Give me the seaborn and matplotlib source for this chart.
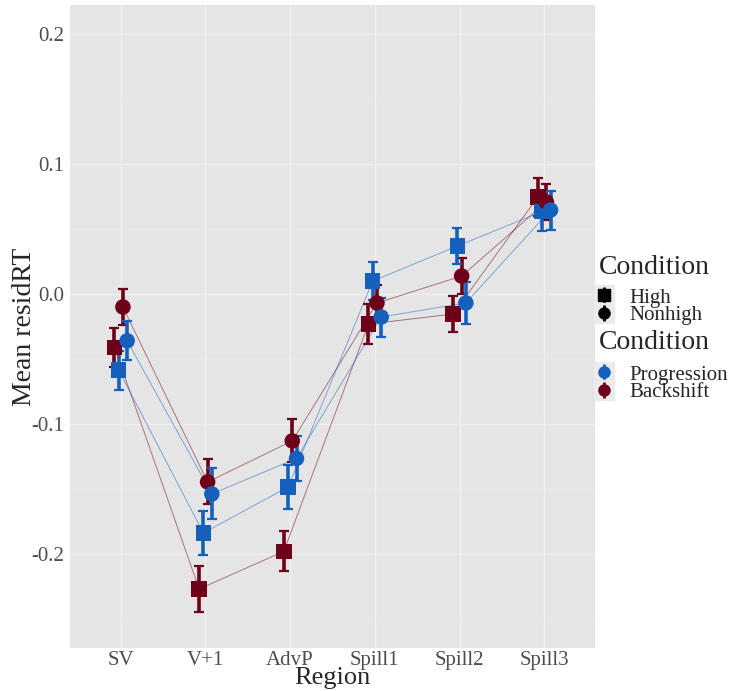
import numpy as np
import pandas as pd
import seaborn as sns
import matplotlib
matplotlib.use("Agg")
import matplotlib.pyplot as plt
from matplotlib.lines import Line2D
from matplotlib.legend_handler import HandlerTuple

regions = ["SV", "V+1", "AdvP", "Spill1", "Spill2", "Spill3"]
groups = ["Progression", "Backshift"]
heights = ["High", "Nonhigh"]

# means
prog_high = [-0.0585, -0.1838, -0.1485, 0.0100, 0.0369, 0.0635]
prog_nonhigh = [-0.0360, -0.1538, -0.1265, -0.0177, -0.0069, 0.0646]
back_high = [-0.0410, -0.2269, -0.1980, -0.0231, -0.0154, 0.0746]
back_nonhigh = [-0.0100, -0.1446, -0.1130, -0.0069, 0.0138, 0.0708]

# standard errors
prog_high_se = [0.0150, 0.0170, 0.0170, 0.0146, 0.0140, 0.0150]
prog_nonhigh_se = [0.0150, 0.0196, 0.0173, 0.0150, 0.0160, 0.0150]
back_high_se = [0.0150, 0.0177, 0.0154, 0.0154, 0.0140, 0.0146]
back_nonhigh_se = [0.0140, 0.0173, 0.0165, 0.0140, 0.0140, 0.0140]

series = [
    ("Backshift", "High", back_high, back_high_se),
    ("Progression", "High", prog_high, prog_high_se),
    ("Backshift", "Nonhigh", back_nonhigh, back_nonhigh_se),
    ("Progression", "Nonhigh", prog_nonhigh, prog_nonhigh_se),
]
dodge = 0.2
offsets = np.array([-3, -1, 1, 3]) * dodge / 8

rows = []
for k, (g, h, m, se) in enumerate(series):
    for i, r in enumerate(regions):
        rows.append(dict(Region=r, pos=i + offsets[k], Group=g, Height=h,
                         mean=m[i], se=se[i], sid=f"{g}-{h}"))
df = pd.DataFrame(rows)

palette = {"Progression": "#1560BD", "Backshift": "#6E0019"}
markers = {"High": "s", "Nonhigh": "o"}

sns.set_theme(style="darkgrid")
plt.rcParams["font.family"] = ["Liberation Serif", "DejaVu Serif"]

W, H = 733, 691
fig = plt.figure(figsize=(W/100, H/100), dpi=100)
ax = fig.add_axes([70/W, 1-648/H, (595-70)/W, (648-5)/H])
ax.set_facecolor("#E5E5E5")

sns.lineplot(data=df, x="pos", y="mean", hue="Group", units="sid", estimator=None,
             palette=palette, lw=0.7, alpha=0.5, legend=False, ax=ax, zorder=2, sort=False)
for (g, h), sub in df.groupby(["Group", "Height"]):
    ax.errorbar(sub["pos"], sub["mean"], yerr=sub["se"], fmt="none",
                ecolor=palette[g], elinewidth=2.6, capsize=3.5, capthick=1.6, zorder=3)
sns.scatterplot(data=df, x="pos", y="mean", hue="Group", style="Height",
                palette=palette, markers=markers, s=125, linewidth=0,
                legend=False, ax=ax, zorder=4)

ax.set_xlim(-0.6, 5.6)
ax.set_ylim(-0.2723, 0.2223)
ax.set_xticks(range(len(regions)))
ax.set_xticklabels(regions)
ax.set_yticks([-0.2, -0.1, 0.0, 0.1, 0.2])
ax.set_yticklabels(["-0.2", "-0.1", "0.0", "0.1", "0.2"])
ax.set_yticks([-0.25, -0.15, -0.05, 0.05, 0.15], minor=True)
ax.grid(which="major", color="#F0F0F0", lw=1.0)
ax.grid(which="minor", axis="y", color="#ECECEC", lw=0.5)
for s in ax.spines.values():
    s.set_visible(False)
ax.tick_params(axis="both", which="major", labelsize=15, length=0,
               labelcolor="#4D4D4D")
ax.tick_params(axis="y", pad=4)
ax.tick_params(axis="x", pad=2)
ax.tick_params(which="minor", length=0)
ax.set_xlabel("Region", fontsize=19, labelpad=-2)
ax.set_ylabel("Mean residRT", fontsize=20, labelpad=-4)

key_bg = "#EBEBEB"
def key(marker, color):
    bg = Line2D([], [], marker="s", color="none", markerfacecolor=key_bg,
                markeredgecolor=key_bg, markersize=14)
    bar = Line2D([], [], marker="|", color="none", markeredgecolor=color,
                 markersize=11, markeredgewidth=2)
    mk = Line2D([], [], marker=marker, color="none", markerfacecolor=color,
                markeredgecolor=color, markersize=8)
    return (bg, bar, mk)

hm = {tuple: HandlerTuple(ndivide=1)}
fig.text(599/W, 1-267/H, "Condition", fontsize=20, ha="left", va="center")
fig.text(599/W, 1-342/H, "Condition", fontsize=20, ha="left", va="center")
h1 = [key("s", "black"), key("o", "black")]
fig.legend(h1, heights, loc="upper left",
           bbox_to_anchor=(594/W, 1-288/H), frameon=False,
           fontsize=15, handler_map=hm,
           handlelength=1.0, handletextpad=0.7, labelspacing=-0.1,
           borderaxespad=0, borderpad=0)
h2 = [key("o", palette["Progression"]), key("o", palette["Backshift"])]
fig.legend(h2, groups, loc="upper left",
           bbox_to_anchor=(594/W, 1-365/H), frameon=False,
           fontsize=15, handler_map=hm,
           handlelength=1.0, handletextpad=0.7, labelspacing=-0.1,
           borderaxespad=0, borderpad=0)

fig.savefig("out.png", dpi=100)
